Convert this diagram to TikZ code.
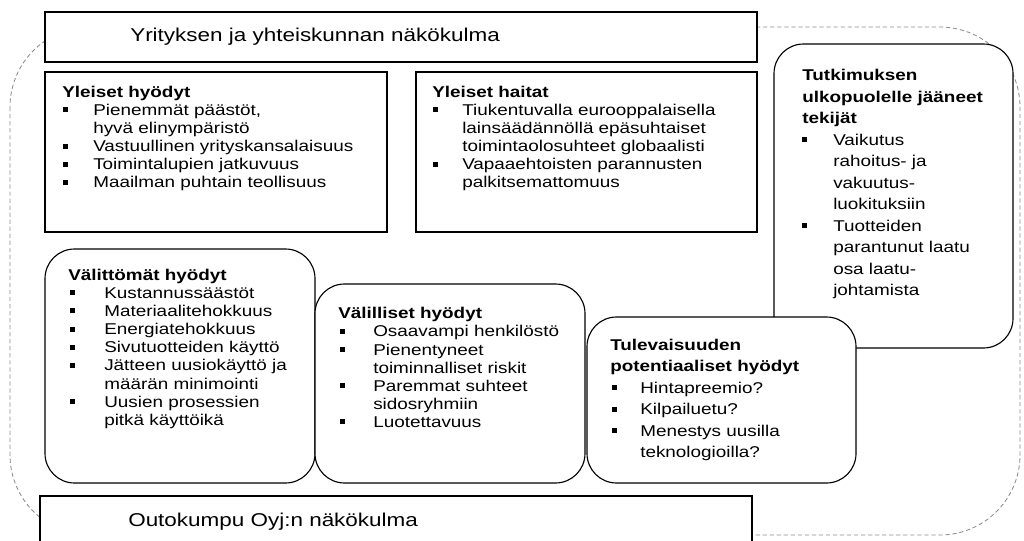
\documentclass[tikz,border=0pt]{standalone}
\usepackage{fontspec}
\setmainfont{Liberation Sans}[FakeStretch=1.21]
\newlength\px
\setlength\px{0.025cm}
\newlength\bulx
\newlength\txtx
\newcommand{\itm}{\makebox[\txtx][l]{\hspace*{\bulx}\rule[3.2\px]{4.6\px}{5\px}}}
\newcommand{\cnt}{\hspace*{\txtx}}
\newcommand{\topstrut}{\rule{0pt}{9pt}}
\definecolor{framegray}{gray}{0.55}
\tikzset{
  panel/.style={draw=black,line width=0.8pt,fill=white},
  roundpanel/.style={panel,rounded corners=21pt},
  boxtext/.style={anchor=north west,inner sep=0pt,align=left,yshift=9pt,
    font=\fontsize{11.1pt}{12.9pt}\selectfont},
  loosetext/.style={boxtext,font=\fontsize{11.1pt}{15.3pt}\selectfont},
  indents/.style 2 args={execute at begin node={\global\bulx=#1\global\txtx=#2}},
  viewtext/.style={anchor=base west,inner sep=0pt,font=\fontsize{13.2pt}{15pt}\selectfont}
}

\begin{document}
\begin{tikzpicture}[x=0.025cm,y=-0.025cm]
\useasboundingbox (0,0) rectangle (1024,540);
% dashed frame round everything
\draw[framegray,line width=0.6pt,dash pattern=on 3pt off 2pt,rounded corners=57pt] (10,27) rectangle (1020,535);
% the two viewpoints
\draw[panel] (45,12) rectangle (757,62);
\node[viewtext] (yhteiskunta) at (130,41) {Yrityksen ja yhteiskunnan näkökulma};
\draw[panel] (40,496) rectangle (752,560);
\node[viewtext] (outokumpu) at (128,526) {Outokumpu Oyj:n näkökulma};
% general benefits and drawbacks
\draw[panel] (45,72) rectangle (387,232);
\node[boxtext,indents={1\px}{31\px}] (hyodyt) at (62,97) {\topstrut\textbf{Yleiset hyödyt}\\
\itm Pienemmät päästöt,\\
\cnt hyvä elinympäristö\\
\itm Vastuullinen yrityskansalaisuus\\
\itm Toimintalupien jatkuvuus\\
\itm Maailman puhtain teollisuus};
\draw[panel] (416,72) rectangle (757,232);
\node[boxtext,indents={1\px}{30\px}] (haitat) at (432,97) {\topstrut\textbf{Yleiset haitat}\\
\itm Tiukentuvalla eurooppalaisella\\
\cnt lainsäädännöllä epäsuhtaiset\\
\cnt toimintaolosuhteet globaalisti\\
\itm Vapaaehtoisten parannusten\\
\cnt palkitsemattomuus};
% factors left out
\draw[roundpanel] (774,44) rectangle (1013,348);
\node[loosetext,indents={0\px}{31\px}] (ulkopuoli) at (802,80.5) {\topstrut\textbf{Tutkimuksen}\\
\textbf{ulkopuolelle jääneet}\\
\textbf{tekijät}\\
\itm Vaikutus\\
\cnt rahoitus- ja\\
\cnt vakuutus-\\
\cnt luokituksiin\\
\itm Tuotteiden\\
\cnt parantunut laatu\\
\cnt osa laatu-\\
\cnt johtamista};
% company benefits
\draw[roundpanel] (45,249) rectangle (315,483);
\node[boxtext,indents={2\px}{36\px}] (valittomat) at (68,280) {\topstrut\textbf{Välittömät hyödyt}\\
\itm Kustannussäästöt\\
\itm Materiaalitehokkuus\\
\itm Energiatehokkuus\\
\itm Sivutuotteiden käyttö\\
\itm Jätteen uusiokäyttö ja\\
\cnt määrän minimointi\\
\itm Uusien prosessien\\
\cnt pitkä käyttöikä};
\draw[roundpanel] (315,284) rectangle (585,483);
\node[boxtext,indents={2\px}{35\px}] (valilliset) at (338,318.5) {\topstrut\textbf{Välilliset hyödyt}\\
\itm Osaavampi henkilöstö\\
\itm Pienentyneet\\
\cnt toiminnalliset riskit\\
\itm Paremmat suhteet\\
\cnt sidosryhmiin\\
\itm Luotettavuus};
\draw[roundpanel] (587,317) rectangle (856,483);
\node[loosetext,indents={2\px}{30\px}] (tulevat) at (610,350) {\topstrut\textbf{Tulevaisuuden}\\
\textbf{potentiaaliset hyödyt}\\
\itm Hintapreemio?\\
\itm Kilpailuetu?\\
\itm Menestys uusilla\\
\cnt teknologioilla?};
\end{tikzpicture}
\end{document}
